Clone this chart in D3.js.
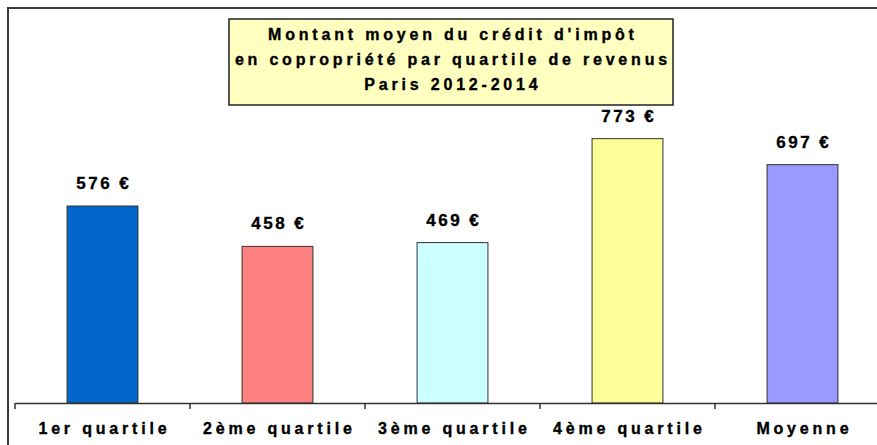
<!DOCTYPE html>
<html>
<head>
<meta charset="utf-8">
<script src="https://cdn.jsdelivr.net/npm/d3@7"></script>
<style>
  html, body { margin: 0; padding: 0; background: #fff; }
  svg { display: block; }
  text { font-family: "Liberation Sans", Arial, sans-serif; font-weight: bold; fill: #000; stroke: #000; stroke-width: 0.35px; }
</style>
</head>
<body>
<svg id="chart" width="877" height="445"></svg>
<script>
const categories = ["1er quartile", "2ème quartile", "3ème quartile", "4ème quartile", "Moyenne"];
const values = [576, 458, 469, 773, 697];
const valueLabels = ["576 €", "458 €", "469 €", "773 €", "697 €"];
const barColors = ["#0066cc", "#ff8080", "#ccffff", "#ffff99", "#9999ff"];
const titleLines = ["Montant moyen du crédit d'impôt", "en copropriété par quartile de revenus", "Paris 2012-2014"];

const svg = d3.select("#chart");

// outer frame (extends past right/bottom edges)
svg.append("rect")
  .attr("x", 8).attr("y", 8).attr("width", 900).attr("height", 460)
  .attr("fill", "#fff").attr("stroke", "#3a3a3a").attr("stroke-width", 2);

const x = d3.scaleBand().domain(categories).range([15, 890]).paddingInner(0).paddingOuter(0);
const y = d3.scaleLinear().domain([0, 1000]).range([403, 61]);
const barW = x.bandwidth() * 0.405;

// bars
svg.selectAll("rect.bar").data(values).enter().append("rect")
  .attr("class", "bar")
  .attr("x", (d, i) => x(categories[i]) + (x.bandwidth() - barW) / 2)
  .attr("y", d => y(d))
  .attr("width", barW)
  .attr("height", d => y(0) - y(d))
  .attr("fill", (d, i) => barColors[i])
  .attr("stroke", "#333")
  .attr("stroke-width", 1);

// value labels
const vSpacing = 2.5;
svg.selectAll("text.val").data(values).enter().append("text")
  .attr("class", "val")
  .attr("x", (d, i) => x(categories[i]) + x.bandwidth() / 2 + vSpacing / 2)
  .attr("y", d => y(d) - 17)
  .attr("text-anchor", "middle")
  .style("font-size", "17px")
  .style("letter-spacing", vSpacing + "px")
  .text((d, i) => valueLabels[i]);

// x axis
const axis = d3.axisBottom(x).tickSize(0).tickFormat("");
const ag = svg.append("g").attr("transform", "translate(0,403)").call(axis);
ag.select(".domain").attr("stroke", "#333").attr("stroke-width", 1.5);
// ticks at category boundaries
const bounds = categories.map(c => x(c));
ag.selectAll("line.bnd").data(bounds).enter().append("line")
  .attr("class", "bnd")
  .attr("x1", d => d).attr("x2", d => d)
  .attr("y1", 0).attr("y2", 6)
  .attr("stroke", "#333").attr("stroke-width", 1.5);

const aSpacing = 3.8;
svg.selectAll("text.cat").data(categories).enter().append("text")
  .attr("class", "cat")
  .attr("x", d => x(d) + x.bandwidth() / 2 + aSpacing / 2)
  .attr("y", 434)
  .attr("text-anchor", "middle")
  .style("font-size", "16px")
  .style("letter-spacing", aSpacing + "px")
  .text(d => d);

// title box
svg.append("rect")
  .attr("x", 229).attr("y", 19).attr("width", 444).attr("height", 86)
  .attr("fill", "#ffffc0").attr("stroke", "#222").attr("stroke-width", 1.5);
const tSpacing = 3.8;
svg.selectAll("text.title").data(titleLines).enter().append("text")
  .attr("class", "title")
  .attr("x", 451 + tSpacing / 2)
  .attr("y", (d, i) => 40 + i * 25)
  .attr("text-anchor", "middle")
  .style("font-size", "16px")
  .style("letter-spacing", tSpacing + "px")
  .text(d => d);
</script>
</body>
</html>
